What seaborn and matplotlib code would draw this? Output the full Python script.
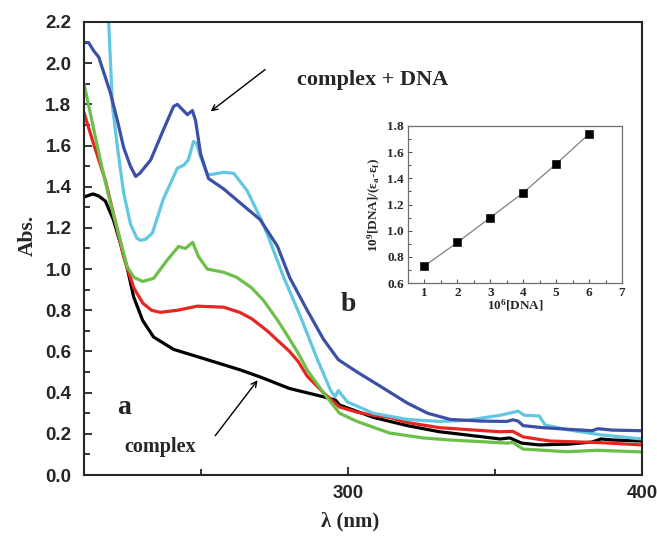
import numpy as np
import pandas as pd
import matplotlib
matplotlib.use("Agg")
import matplotlib.pyplot as plt
import seaborn as sns

# ---- data ----
blue_x = [210, 211.6, 213.3, 215, 217.3, 219, 221.4, 223.5, 225.8, 227.6, 229, 232.7, 237, 240.5, 241.8,
          245.2, 246.9, 248, 249.7, 252.4, 257.5, 263.3, 270, 275.9, 280, 286, 291.5, 296.6, 303, 311,
          320, 327, 334.7, 345, 354, 356, 357.8, 359.5, 366, 375, 383, 385, 390, 400]
blue_y = [2.10, 2.10, 2.06, 2.03, 1.93, 1.855, 1.72, 1.59, 1.50, 1.45, 1.465, 1.53, 1.675, 1.79, 1.80,
          1.75, 1.77, 1.72, 1.56, 1.44, 1.39, 1.32, 1.24, 1.11, 0.96, 0.80, 0.66, 0.56, 0.50, 0.43,
          0.35, 0.30, 0.27, 0.262, 0.26, 0.268, 0.262, 0.24, 0.23, 0.222, 0.215, 0.225, 0.218, 0.215]

cyan_x = [217.9, 218.4, 219.7, 221.4, 223.5, 225.8, 228, 229.3, 231, 233.3, 237, 241.8, 244, 245.5, 247.3,
          248.3, 249.7, 252, 253.7, 257.5, 261, 265.6, 270, 272.4, 278, 283.7, 289.5, 294, 295.5, 296.6,
          299.7, 308.5, 320, 331, 340, 351.7, 357.8, 360, 365, 367, 374.5, 386, 400]
cyan_y = [2.40, 2.20, 1.79, 1.59, 1.37, 1.22, 1.15, 1.14, 1.145, 1.175, 1.34, 1.49, 1.505, 1.53, 1.62,
          1.61, 1.545, 1.46, 1.46, 1.47, 1.465, 1.38, 1.25, 1.17, 0.96, 0.77, 0.56, 0.41, 0.38, 0.41,
          0.355, 0.30, 0.27, 0.26, 0.265, 0.29, 0.31, 0.29, 0.287, 0.243, 0.22, 0.195, 0.175]

green_x = [210, 213, 216, 219, 222, 224.7, 227, 230, 233.7, 238.4, 242.2, 244.5, 247, 249, 252, 257.5,
           262, 267, 271, 276, 280, 283, 286, 291.5, 297, 303, 314, 325.5, 334.7, 354, 356, 359.5,
           374.5, 384.7, 400]
green_y = [1.90, 1.70, 1.50, 1.32, 1.16, 1.01, 0.96, 0.94, 0.955, 1.045, 1.11, 1.10, 1.13, 1.06, 1.00, 0.985,
           0.96, 0.91, 0.85, 0.75, 0.66, 0.59, 0.51, 0.40, 0.30, 0.26, 0.204, 0.18, 0.17, 0.155, 0.158, 0.126,
           0.113, 0.12, 0.112]

red_x = [210, 213, 217.3, 220, 223.5, 226.9, 230, 233, 236, 241.8, 248.6, 257.5, 263, 267, 272.4, 280,
         283, 286, 291.5, 297, 303, 308.5, 314, 320, 331, 341, 351.7, 356, 359.5, 368.7, 386, 400]
red_y = [1.76, 1.62, 1.43, 1.27, 1.06, 0.91, 0.835, 0.80, 0.79, 0.80, 0.82, 0.815, 0.79, 0.76, 0.70, 0.60,
         0.55, 0.48, 0.40, 0.33, 0.305, 0.29, 0.28, 0.255, 0.23, 0.22, 0.21, 0.212, 0.185, 0.165, 0.157, 0.146]

black_x = [210, 213, 215, 217.3, 220, 222.5, 224.8, 226.9, 230, 233.7, 240.5, 249.7, 256.5, 263.3, 270, 280,
           291.5, 295.6, 297, 308.5, 320, 331, 334.7, 351.7, 355, 359, 365, 375, 383, 386, 390, 400]
black_y = [1.35, 1.365, 1.355, 1.33, 1.24, 1.12, 1.00, 0.865, 0.75, 0.67, 0.61, 0.57, 0.54, 0.51, 0.476, 0.42,
           0.38, 0.364, 0.34, 0.28, 0.24, 0.21, 0.204, 0.175, 0.18, 0.155, 0.146, 0.15, 0.16, 0.175, 0.17, 0.165]

inset_x = [1, 2, 3, 4, 5, 6]
inset_y = [0.73, 0.91, 1.10, 1.29, 1.51, 1.74]

series = {"blue": (blue_x, blue_y), "cyan": (cyan_x, cyan_y), "green": (green_x, green_y),
          "red": (red_x, red_y), "black": (black_x, black_y)}
palette = {"blue": "#3b50a6", "cyan": "#63c7e1", "green": "#6cbf49", "red": "#e8261f", "black": "#000000"}

frames = []
for name, (xs, ys) in series.items():
    frames.append(pd.DataFrame({"wl": xs, "abs": ys, "curve": name}))
df = pd.concat(frames, ignore_index=True)

# ---- figure ----
sns.set_style("ticks")
plt.rcParams["font.family"] = ["Liberation Sans", "DejaVu Sans"]
plt.rcParams["mathtext.fontset"] = "custom"
plt.rcParams["mathtext.rm"] = "Liberation Serif:bold"
plt.rcParams["mathtext.it"] = "Liberation Serif:bold"
plt.rcParams["mathtext.bf"] = "Liberation Serif:bold"

fig = plt.figure(figsize=(6.57, 5.57), dpi=100)
ax = fig.add_axes([84 / 657, 1 - 475 / 557, (642 - 84) / 657, (475 - 22) / 557])

order = ["black", "red", "green", "cyan", "blue"]
sns.lineplot(data=df, x="wl", y="abs", hue="curve", hue_order=order, palette=palette,
             estimator=None, sort=False, linewidth=2.3, legend=False, ax=ax)

ax.set_xticks([200, 300, 400])
ax.set_xticks([250, 350], minor=True)
ax.set_yticks(np.round(np.arange(0, 2.21, 0.2), 1))
ax.set_yticks(np.round(np.arange(0.1, 2.2, 0.2), 1), minor=True)
ax.set_yticklabels([f"{v:.1f}" for v in np.arange(0, 2.21, 0.2)])
ax.set_xlim(210, 400)
ax.set_ylim(0, 2.2)
ax.tick_params(which="both", direction="in", width=1.3, labelsize=13.5)
ax.tick_params(which="major", length=6)
ax.tick_params(which="minor", length=4)
ax.tick_params(axis="y", pad=9)
ax.tick_params(axis="x", pad=7)
for lab in ax.get_xticklabels() + ax.get_yticklabels():
    lab.set_fontweight("bold")
for s in ax.spines.values():
    s.set_linewidth(1.5)
    s.set_visible(True)
ax.set_xlabel("")
ax.set_ylabel("")

serif = ["Liberation Serif", "DejaVu Serif"]
fig.text(28 / 657, 1 - 235 / 557, "Abs.", rotation=90, ha="center", va="center",
         fontsize=15.5, fontweight="bold", family=serif)
fig.text(350 / 657, 1 - 521 / 557, "λ (nm)", ha="center", va="center",
         fontsize=15, fontweight="bold", family=serif)

ax.text(308.2, 1.918, "complex + DNA", ha="center", va="center", fontsize=16,
        fontweight="bold", family=serif)
ax.annotate("", xy=(252.4, 1.758), xytext=(272.4, 1.977),
            arrowprops=dict(arrowstyle="->", color="black", lw=1.0))
ax.text(223.5, 0.33, "a", ha="center", va="center", fontsize=20, fontweight="bold", family=serif)
ax.text(300, 0.826, "b", ha="center", va="center", fontsize=20, fontweight="bold", family=serif)
ax.text(236, 0.136, "complex", ha="center", va="center", fontsize=14.5, fontweight="bold", family=serif)
ax.annotate("", xy=(269.7, 0.471), xytext=(254.1, 0.18),
            arrowprops=dict(arrowstyle="->", color="black", lw=1.0))

# ---- inset ----
ins = fig.add_axes([408 / 657, 1 - 283 / 557, (622 - 408) / 657, (283 - 126) / 557])
idf = pd.DataFrame({"c": inset_x, "v": inset_y})
sns.lineplot(data=idf, x="c", y="v", color="#808080", linewidth=0.9, ax=ins)
sns.scatterplot(data=idf, x="c", y="v", marker="s", color="black", s=30, edgecolor="black", ax=ins, zorder=3)
ins.set_xticks([1, 2, 3, 4, 5, 6, 7])
ins.set_xticks([1.5, 2.5, 3.5, 4.5, 5.5, 6.5], minor=True)
ins.set_yticks([0.6, 0.8, 1.0, 1.2, 1.4, 1.6, 1.8])
ins.set_yticks([0.7, 0.9, 1.1, 1.3, 1.5, 1.7], minor=True)
ins.set_yticklabels(["0.6", "0.8", "1.0", "1.2", "1.4", "1.6", "1.8"])
ins.set_xlim(0.5, 7)
ins.set_ylim(0.6, 1.8)
ins.tick_params(which="both", direction="in", width=0.8, labelsize=9.5, pad=3, color="#555555")
ins.tick_params(which="major", length=3)
ins.tick_params(which="minor", length=2)
for lab in ins.get_xticklabels() + ins.get_yticklabels():
    lab.set_fontweight("bold")
    lab.set_family(serif)
for s in ins.spines.values():
    s.set_linewidth(0.9)
    s.set_color("#707070")
    s.set_visible(True)
ins.set_xlabel(r"10$^{6}$[DNA]", fontsize=9.5, fontweight="bold", family=serif, labelpad=-1)
ins.set_ylabel(r"10$^{9}$[DNA]/(ε$_{a}$-ε$_{f}$)", fontsize=9.5, fontweight="bold",
               family=serif, labelpad=3)

fig.savefig("out.png", dpi=100)
